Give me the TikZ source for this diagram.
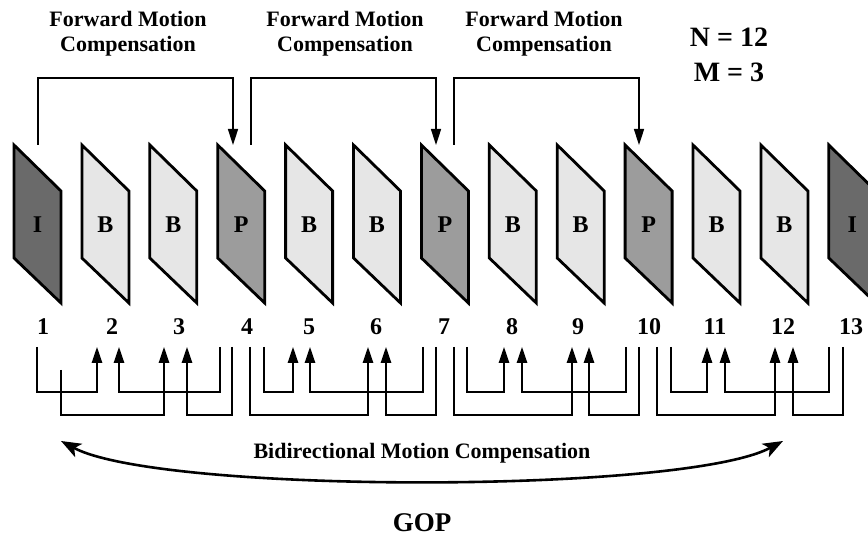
\documentclass[tikz,border=0pt]{standalone}
\usepackage{fontspec}
\setmainfont{Liberation Serif}
\usetikzlibrary{arrows.meta}

\definecolor{iframe}{HTML}{6A6A6A}
\definecolor{pframe}{HTML}{9C9C9C}
\definecolor{bframe}{HTML}{E6E6E6}

\tikzset{
  framebox/.style={draw=black, line width=2.8pt, line join=miter},
  framelabel/.style={inner sep=0pt, font=\bfseries\fontsize{24}{28}\selectfont},
  numlabel/.style={inner sep=0pt, font=\bfseries\fontsize{24}{28}\selectfont},
  title/.style={inner sep=0pt, align=center, font=\bfseries\fontsize{22}{25}\selectfont},
  fwd/.style={line width=1.6pt, -{Triangle[length=16pt,width=10pt]}},
  conn/.style={line width=1.3pt, -{Triangle[length=16pt,width=10.5pt]}},
  bidir/.style={line width=2.6pt, {Stealth[length=20pt,width=15pt,inset=5pt]}-{Stealth[length=20pt,width=15pt,inset=5pt]}}
}

\begin{document}
\begin{tikzpicture}[x=1pt,y=-1pt]
  \useasboundingbox (0,0) rectangle (868,537);
  \clip (0,0) rectangle (868,537);
  \fill[white] (0,0) rectangle (868,537);

  % frames of the group of pictures
  \foreach \t/\c [count=\i] in {I/iframe,B/bframe,B/bframe,P/pframe,B/bframe,B/bframe,P/pframe,B/bframe,B/bframe,P/pframe,B/bframe,B/bframe,I/iframe} {
    \pgfmathsetmacro{\l}{14+67.9*(\i-1)}
    \draw[framebox, fill=\c] (\l,145) -- (\l+47,191) -- (\l+47,303) -- (\l,258) -- cycle;
    \node[framelabel] (f\i) at (\l+23.5,225) {\t};
  }

  % frame numbers
  \foreach \x [count=\i] in {43,112,179,247,309,376,444,512,578,649,715,783,851} {
    \node[numlabel] (n\i) at (\x,326.5) {\i};
  }

  % forward motion compensation (I/P to next P)
  \foreach \a/\b [count=\k] in {38/233, 251/436, 454/639} {
    \coordinate (fs\k) at (\a,145);
    \coordinate (fe\k) at (\b,145);
    \draw[fwd] (fs\k) -- (\a,78) -- (\b,78) -- (fe\k);
  }
  \node[title] (t1) at (128,34) {Forward Motion\\Compensation};
  \node[title] (t2) at (345,34) {Forward Motion\\Compensation};
  \node[title] (t3) at (544,34) {Forward Motion\\Compensation};

  % bidirectional references for the B frames
  \foreach \a/\top/\lev/\c [count=\k] in {
      37/347/392/97, 61/370/415/164, 220/347/392/119, 232/347/415/187,
      264/347/392/293, 250/347/415/368, 423/347/392/310, 436/347/415/386,
      467/347/392/504, 454/347/415/572, 626/347/392/522, 639/347/415/589,
      671/347/392/707, 657/347/415/775, 829/347/392/725, 843/347/415/793} {
    \coordinate (bs\k) at (\a,\top);
    \coordinate (be\k) at (\c,347);
    \draw[conn] (bs\k) |- (\c,\lev) -- (be\k);
  }

  % GOP span
  \coordinate (gl) at (61,441);
  \coordinate (gr) at (783,441);
  \draw[bidir] (gl) .. controls (160,494) and (684,494) .. (gr);
  \node[title] (bmc) at (422,453) {Bidirectional Motion Compensation};
  \node[inner sep=0pt, font=\bfseries\fontsize{27}{32}\selectfont] (gop) at (422,522.5) {GOP};

  % sequence parameters
  \node[inner sep=0pt, align=center, font=\bfseries\fontsize{28}{35}\selectfont] (nm) at (729,55) {N = 12\\M = 3};
\end{tikzpicture}
\end{document}
